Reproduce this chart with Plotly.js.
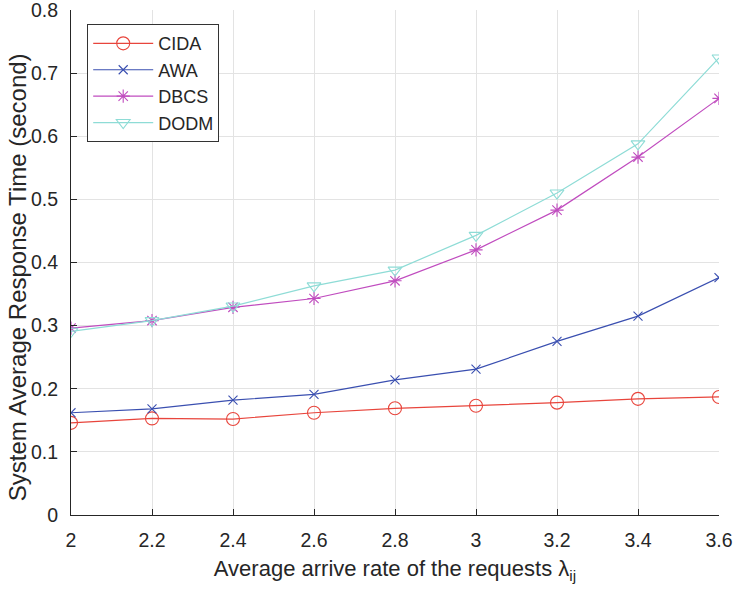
<!DOCTYPE html>
<html>
<head>
<meta charset="utf-8">
<script src="https://cdn.plot.ly/plotly-3.0.1.min.js"></script>
<style>html,body{margin:0;padding:0;background:#fff;}#chart{width:734px;height:593px;}</style>
</head>
<body>
<div id="chart"></div>
<script>
const rates = [2, 2.2, 2.4, 2.6, 2.8, 3, 3.2, 3.4, 3.6];
const cida = [0.146, 0.153, 0.152, 0.162, 0.169, 0.173, 0.178, 0.184, 0.187];
const awa  = [0.162, 0.168, 0.182, 0.191, 0.214, 0.231, 0.275, 0.315, 0.376];
const dbcs = [0.296, 0.308, 0.329, 0.343, 0.371, 0.420, 0.483, 0.567, 0.660];
const dodm = [0.291, 0.308, 0.331, 0.363, 0.388, 0.443, 0.510, 0.588, 0.724];
const seriesNames = ['CIDA', 'AWA', 'DBCS', 'DODM'];
const xTicks = [2, 2.2, 2.4, 2.6, 2.8, 3, 3.2, 3.4, 3.6];
const xTickText = ['2', '2.2', '2.4', '2.6', '2.8', '3', '3.2', '3.4', '3.6'];
const yTicks = [0, 0.1, 0.2, 0.3, 0.4, 0.5, 0.6, 0.7, 0.8];
const yTickText = ['0', '0.1', '0.2', '0.3', '0.4', '0.5', '0.6', '0.7', '0.8'];
const xTitle = 'Average arrive rate of the requests λ<sub>ij</sub>';
const yTitle = 'System Average Response Time (second)';

function tr(name, y, color, symbol, size) {
  return {
    x: rates, y: y, name: name, type: 'scatter', mode: 'lines+markers',
    line: {color: color, width: 1.2},
    marker: {symbol: symbol, size: size, color: color, line: {color: color, width: 1.1}}
  };
}
const data = [
  tr(seriesNames[0], cida, '#e8453c', 'circle-open', 13),
  tr(seriesNames[1], awa, '#3a4fb0', 'x-thin-open', 9),
  tr(seriesNames[2], dbcs, '#c04cbf', 'asterisk-open', 11),
  tr(seriesNames[3], dodm, '#8edcd6', 'triangle-down-open', 12)
];
const font = {family: 'Liberation Sans, Arial, sans-serif', color: '#262626'};
const layout = {
  width: 734, height: 593,
  margin: {l: 71, r: 15, t: 10, b: 78},
  paper_bgcolor: '#fff', plot_bgcolor: '#fff',
  font: Object.assign({size: 16}, font),
  showlegend: true,
  legend: {
    x: 0.025, y: 0.972, xanchor: 'left', yanchor: 'top',
    bgcolor: '#fff', bordercolor: '#333', borderwidth: 1,
    font: Object.assign({size: 18}, font),
    itemwidth: 60, tracegroupgap: 0
  },
  xaxis: {
    range: [2, 3.6], tickmode: 'array', tickvals: xTicks, ticktext: xTickText,
    showgrid: true, gridcolor: '#e3e3e3', gridwidth: 1,
    zeroline: false, showline: true, linecolor: '#262626', linewidth: 1,
    ticks: 'inside', ticklen: 6, tickcolor: '#262626',
    ticklabelstandoff: 8, ticklabeloverflow: 'allow',
    tickfont: Object.assign({size: 19.5}, font),
    title: {text: xTitle, font: Object.assign({size: 22}, font), standoff: 10}
  },
  yaxis: {
    range: [0, 0.8], tickmode: 'array', tickvals: yTicks, ticktext: yTickText,
    showgrid: true, gridcolor: '#e3e3e3', gridwidth: 1,
    zeroline: false, showline: true, linecolor: '#262626', linewidth: 1,
    ticks: 'inside', ticklen: 6, tickcolor: '#262626',
    ticklabelstandoff: 8, ticklabeloverflow: 'allow',
    tickfont: Object.assign({size: 19.5}, font)
  },
  annotations: [{
    text: yTitle, textangle: -90, showarrow: false,
    xref: 'paper', yref: 'paper', x: -0.0833, y: 0.471,
    xanchor: 'center', yanchor: 'middle',
    font: Object.assign({size: 24}, font)
  }]
};
Plotly.newPlot('chart', data, layout, {staticPlot: true, displayModeBar: false});
</script>
</body>
</html>
